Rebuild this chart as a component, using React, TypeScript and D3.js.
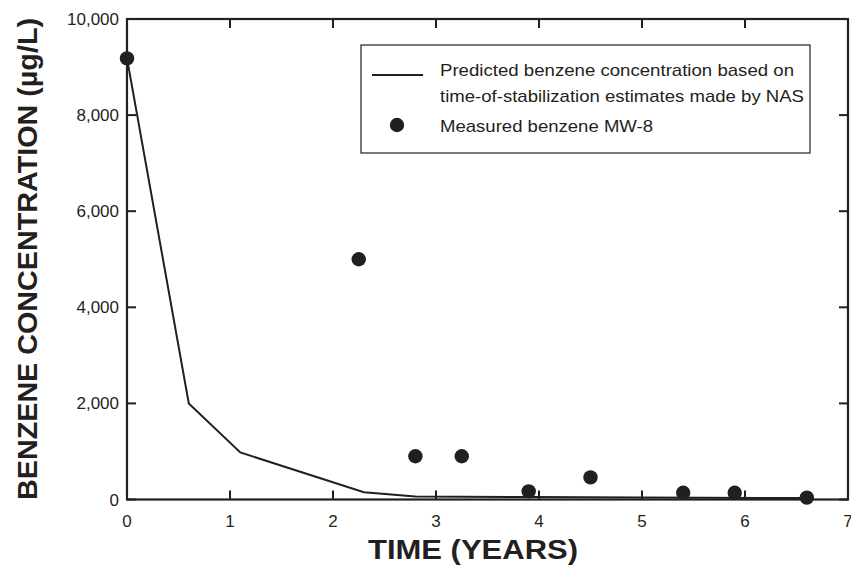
import React, { useRef, useEffect } from "react";
import * as d3 from "d3";

// predicted (NAS time-of-stabilization) curve
const predYears = [0, 0.6, 1.1, 2.3, 2.8, 3.9, 5.0, 6.6];
const predConc = [9180, 2000, 980, 150, 60, 50, 40, 30];

// measured benzene at MW-8
const measYears = [0, 2.25, 2.8, 3.25, 3.9, 4.5, 5.4, 5.9, 6.6];
const measConc = [9180, 5000, 900, 900, 170, 460, 140, 140, 40];

const xTicks = [0, 1, 2, 3, 4, 5, 6, 7];
const yTicks = [0, 2000, 4000, 6000, 8000, 10000];

const legendLabels = [
  "Predicted benzene concentration based on",
  "time-of-stabilization estimates made by NAS",
  "Measured benzene MW-8",
];

const INK = "#231f20";
const SANS = "'Liberation Sans', Arial, Helvetica, sans-serif";
const NARROW = "'Liberation Sans Narrow', 'Liberation Sans', Arial, sans-serif";

export default function App() {
  const svgRef = useRef<SVGSVGElement | null>(null);

  useEffect(() => {
    const svg = svgRef.current;
    if (!svg) return;
    const W = 851;
    const H = 565;
    const M = { l: 127, r: 3, t: 19, b: 65.5 };
    const TICK = 9;

    const x = d3.scaleLinear().domain([0, 7]).range([M.l, W - M.r]);
    const y = d3.scaleLinear().domain([0, 10000]).range([H - M.b, M.t]);

    const sel = d3.select(svg);
    sel.selectAll("*").remove();

    const fmt = d3.format(",");
    const x0 = x(0), x1 = x(7), y0 = y(0), y1 = y(10000);

    // inward ticks, all four sides
    const tg = sel.append("g").attr("stroke", INK).attr("stroke-width", 2);
    xTicks.forEach((t) => {
      tg.append("line").attr("x1", x(t)).attr("x2", x(t)).attr("y1", y0).attr("y2", y0 - TICK);
      tg.append("line").attr("x1", x(t)).attr("x2", x(t)).attr("y1", y1).attr("y2", y1 + TICK);
    });
    yTicks.forEach((t) => {
      tg.append("line").attr("x1", x0).attr("x2", x0 + TICK).attr("y1", y(t)).attr("y2", y(t));
      tg.append("line").attr("x1", x1).attr("x2", x1 - TICK).attr("y1", y(t)).attr("y2", y(t));
    });

    // tick labels
    sel
      .append("g")
      .selectAll("text")
      .data(xTicks)
      .enter()
      .append("text")
      .attr("x", (d) => x(d))
      .attr("y", y0 + 27)
      .attr("text-anchor", "middle")
      .attr("font-size", 17)
      .attr("font-family", NARROW)
      .attr("fill", INK)
      .text((d) => String(d));

    sel
      .append("g")
      .selectAll("text")
      .data(yTicks)
      .enter()
      .append("text")
      .attr("x", x0 - 8)
      .attr("y", (d) => y(d) + 6)
      .attr("text-anchor", "end")
      .attr("font-size", 17)
      .attr("font-family", SANS)
      .attr("fill", INK)
      .text((d) => fmt(d));

    // frame
    sel
      .append("rect")
      .attr("x", x0)
      .attr("y", y1)
      .attr("width", x1 - x0)
      .attr("height", y0 - y1)
      .attr("fill", "none")
      .attr("stroke", INK)
      .attr("stroke-width", 2.2);

    // predicted line
    const line = d3
      .line<number>()
      .x((_, i) => x(predYears[i]))
      .y((d) => y(d));
    sel
      .append("path")
      .datum(predConc)
      .attr("d", line)
      .attr("fill", "none")
      .attr("stroke", INK)
      .attr("stroke-width", 2)
      .attr("stroke-linejoin", "miter");

    // measured points
    sel
      .append("g")
      .selectAll("circle")
      .data(measConc)
      .enter()
      .append("circle")
      .attr("cx", (_, i) => x(measYears[i]))
      .attr("cy", (d) => y(d))
      .attr("r", 7.2)
      .attr("fill", INK);

    // legend
    const lg = sel.append("g");
    lg.append("rect")
      .attr("x", 361)
      .attr("y", 45)
      .attr("width", 449)
      .attr("height", 108)
      .attr("fill", "#fff")
      .attr("stroke", INK)
      .attr("stroke-width", 1.2);
    lg.append("line")
      .attr("x1", 372)
      .attr("x2", 423)
      .attr("y1", 75)
      .attr("y2", 75)
      .attr("stroke", INK)
      .attr("stroke-width", 2);
    lg.append("circle").attr("cx", 397).attr("cy", 125).attr("r", 7.2).attr("fill", INK);
    const widths = [354, 364, 213];
    const bases = [76, 102, 132];
    legendLabels.forEach((t, i) => {
      lg.append("text")
        .attr("x", 440)
        .attr("y", bases[i])
        .attr("font-size", 17)
        .attr("font-family", NARROW)
        .attr("fill", INK)
        .attr("textLength", widths[i])
        .attr("lengthAdjust", "spacingAndGlyphs")
        .text(t);
    });

    // axis titles
    sel
      .append("text")
      .attr("x", 473)
      .attr("y", 559)
      .attr("text-anchor", "middle")
      .attr("font-size", 27)
      .attr("font-weight", "bold")
      .attr("font-family", NARROW)
      .attr("fill", INK)
      .attr("textLength", 210)
      .attr("lengthAdjust", "spacingAndGlyphs")
      .text("TIME (YEARS)");

    sel
      .append("text")
      .attr("transform", `translate(37,259) rotate(-90)`)
      .attr("text-anchor", "middle")
      .attr("font-size", 27)
      .attr("font-weight", "bold")
      .attr("font-family", SANS)
      .attr("fill", INK)
      .attr("textLength", 482)
      .attr("lengthAdjust", "spacingAndGlyphs")
      .text("BENZENE CONCENTRATION (µg/L)");
  }, []);

  return (
    <svg
      ref={svgRef}
      width={851}
      height={565}
      style={{ position: "absolute", left: 0, top: 0, background: "#fff", display: "block" }}
    />
  );
}
